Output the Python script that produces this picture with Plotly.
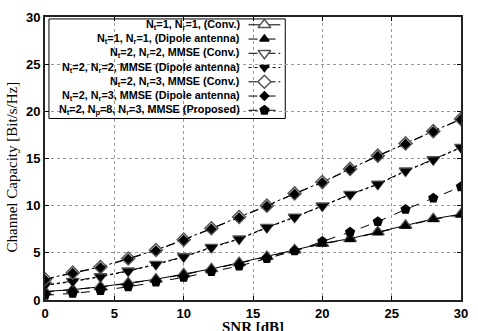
import plotly.graph_objects as go

snr = [0, 2, 4, 6, 8, 10, 12, 14, 16, 18, 20, 22, 24, 26, 28, 30]
conv11 = [0.9, 1.1, 1.4, 1.8, 2.2, 2.75, 3.3, 3.95, 4.6, 5.3, 6.0, 6.5, 7.2, 7.9, 8.6, 9.1]
dip11 = [0.85, 1.08, 1.38, 1.75, 2.18, 2.7, 3.25, 3.9, 4.55, 5.25, 5.95, 6.45, 7.15, 7.85, 8.55, 9.05]
conv22 = [1.6, 2.0, 2.5, 3.1, 3.8, 4.6, 5.6, 6.5, 7.7, 8.8, 10.0, 11.2, 12.3, 13.7, 14.9, 16.2]
dip22 = [1.55, 1.95, 2.45, 3.05, 3.75, 4.55, 5.55, 6.45, 7.65, 8.75, 9.95, 11.15, 12.25, 13.65, 14.85, 16.15]
conv23 = [2.2, 2.9, 3.5, 4.4, 5.3, 6.4, 7.6, 8.8, 10.0, 11.3, 12.5, 13.9, 15.3, 16.6, 17.9, 19.2]
dip23 = [2.15, 2.85, 3.45, 4.35, 5.25, 6.35, 7.55, 8.75, 9.95, 11.25, 12.45, 13.85, 15.25, 16.55, 17.85, 19.15]
proposed = [0.5, 0.7, 1.0, 1.4, 1.9, 2.4, 3.0, 3.6, 4.4, 5.2, 6.2, 7.2, 8.3, 9.6, 10.8, 12.0]

labels = [
    "N<sub>t</sub>=1, N<sub>r</sub>=1, (Conv.)",
    "N<sub>t</sub>=1, N<sub>r</sub>=1, (Dipole antenna)",
    "N<sub>t</sub>=2, N<sub>r</sub>=2, MMSE (Conv.)",
    "N<sub>t</sub>=2, N<sub>r</sub>=2, MMSE (Dipole antenna)",
    "N<sub>t</sub>=2, N<sub>r</sub>=3, MMSE (Conv.)",
    "N<sub>t</sub>=2, N<sub>r</sub>=3, MMSE (Dipole antenna)",
    "N<sub>t</sub>=2, N<sub>p</sub>=8, N<sub>r</sub>=3, MMSE (Proposed)",
]

series = [conv11, dip11, conv22, dip22, conv23, dip23, proposed]
styles = [
    dict(symbol="triangle-up", size=11, color="white", lc="#555", dash="solid"),
    dict(symbol="triangle-up", size=8, color="black", lc="black", dash="dash"),
    dict(symbol="triangle-down", size=11, color="white", lc="#555", dash="dashdot"),
    dict(symbol="triangle-down", size=8, color="black", lc="black", dash="dot"),
    dict(symbol="diamond", size=10, color="white", lc="#555", dash="dashdot"),
    dict(symbol="diamond", size=6.5, color="black", lc="black", dash="dash"),
    dict(symbol="pentagon", size=9, color="black", lc="black", dash="dash"),
]

fig = go.Figure()
for ys, st in zip(series, styles):
    fig.add_trace(go.Scatter(
        x=snr, y=ys, mode="lines+markers",
        line=dict(color="black", width=1, dash=st["dash"]),
        marker=dict(symbol=st["symbol"], size=st["size"], color=st["color"],
                    line=dict(color=st["lc"], width=1.5)),
        showlegend=False))

# manual legend (right-aligned text, sample on the right)
L, R, T, B = 45, 464, 10, 300
W, H = R - L, B - T
def px(x):
    return (x - L) / W
def py(y):
    return (B - y) / H

row_y = [18 + i * 14.6 for i in range(7)]
for lab, st, ry in zip(labels, styles, row_y):
    fig.add_trace(go.Scatter(
        x=[px(250), px(266), px(282)], y=[py(ry)] * 3, xaxis="x2", yaxis="y2",
        mode="lines", line=dict(color="black", width=1, dash=st["dash"]),
        showlegend=False, hoverinfo="skip"))
    fig.add_trace(go.Scatter(
        x=[px(266)], y=[py(ry)], xaxis="x2", yaxis="y2", mode="markers",
        marker=dict(symbol=st["symbol"], size=st["size"], color=st["color"],
                    line=dict(color=st["lc"], width=1.5)),
        showlegend=False, hoverinfo="skip"))
    fig.add_annotation(x=px(243), y=py(ry), xref="paper", yref="paper",
                       text="<b>" + lab + "</b>", showarrow=False,
                       xanchor="right", yanchor="middle",
                       font=dict(family="Liberation Sans, Arial", size=10.8, color="black"))

fig.add_shape(type="rect", xref="paper", yref="paper",
              x0=px(49), x1=px(287), y0=py(114), y1=py(12),
              line=dict(color="black", width=1), fillcolor="rgba(0,0,0,0)", layer="below")

fig.add_annotation(x=0.5, y=-(328 - B) / H, xref="paper", yref="paper",
                   text="<b>SNR [dB]</b>", showarrow=False, yanchor="middle",
                   font=dict(family="Liberation Serif, Times New Roman", size=15, color="black"))
fig.add_annotation(x=-(L - 12) / W, y=py(164), xref="paper", yref="paper",
                   text="Channel Capacity [Bit/s/Hz]", showarrow=False, textangle=-90,
                   xanchor="center", yanchor="middle",
                   font=dict(family="Liberation Serif, Times New Roman", size=15, color="black"))

axis_common = dict(showline=True, linecolor="#222", linewidth=2, mirror="ticks",
                   ticks="inside", ticklen=4, tickcolor="black",
                   showgrid=True, gridcolor="#999", griddash="dot", gridwidth=1,
                   zeroline=False,
                   tickfont=dict(family="Liberation Sans, Arial", size=13, color="black",
                                 weight="bold"))

fig.update_layout(
    width=478, height=331,
    margin=dict(l=L, r=478 - R, t=T, b=331 - B),
    paper_bgcolor="white", plot_bgcolor="white",
    xaxis=dict(range=[0, 30], tickvals=[0, 5, 10, 15, 20, 25, 30], **axis_common),
    yaxis=dict(range=[0, 30], tickvals=[0, 5, 10, 15, 20, 25, 30], **axis_common),
    xaxis2=dict(range=[0, 1], overlaying="x", visible=False, fixedrange=True),
    yaxis2=dict(range=[0, 1], overlaying="y", visible=False, fixedrange=True),
    showlegend=False,
)

fig.write_html("out.html")
